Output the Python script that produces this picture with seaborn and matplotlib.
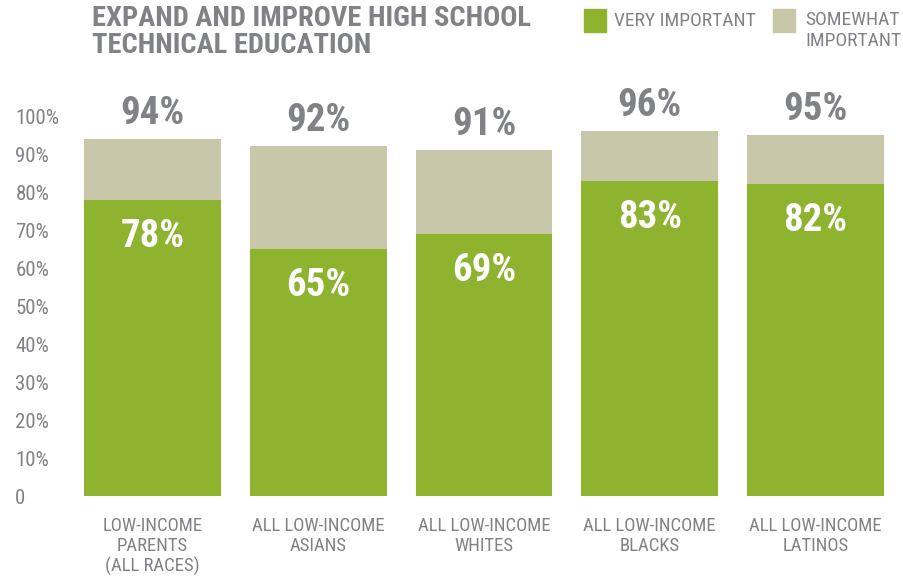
import matplotlib
matplotlib.use("Agg")
import matplotlib.pyplot as plt
import seaborn as sns
import pandas as pd
from matplotlib.patches import Rectangle
from matplotlib import font_manager as fm

categories = ["LOW-INCOME\nPARENTS\n(ALL RACES)", "ALL LOW-INCOME\nASIANS",
              "ALL LOW-INCOME\nWHITES", "ALL LOW-INCOME\nBLACKS", "ALL LOW-INCOME\nLATINOS"]
total_important = [94, 92, 91, 96, 95]
very_important = [78, 65, 69, 83, 82]
ytick_vals = [0, 10, 20, 30, 40, 50, 60, 70, 80, 90, 100]
ytick_labels = ["0", "10%", "20%", "30%", "40%", "50%", "60%", "70%", "80%", "90%", "100%"]

GREEN = "#8db32f"
BEIGE = "#c8c7a9"
GRAY = "#808285"

available = {f.name for f in fm.fontManager.ttflist}
FONT = next((f for f in ["Roboto Condensed", "Archivo Narrow", "Barlow Semi Condensed",
                          "Asap Condensed"] if f in available), "DejaVu Sans")

sns.set_theme(style="white")
plt.rcParams["font.family"] = [FONT, "DejaVu Sans"]

df = pd.DataFrame({"cat": categories, "total": total_important, "very": very_important})

fig = plt.figure(figsize=(9.04, 5.79), dpi=100)
ax = fig.add_axes([69.5 / 904, 1 - 496 / 579, 829 / 904, (496 - 78) / 579])

sns.barplot(data=df, x="cat", y="total", color=BEIGE, width=0.825, saturation=1, ax=ax)
sns.barplot(data=df, x="cat", y="very", color=GREEN, width=0.825, saturation=1, ax=ax)
for p in ax.patches:
    p.set_linewidth(0)

ax.set_ylim(0, 110)
ax.set_xlim(-0.5, len(categories) - 0.5)
ax.set_yticks(ytick_vals)
ax.set_yticklabels(ytick_labels)
ax.set_xlabel("")
ax.set_ylabel("")
for s in ax.spines.values():
    s.set_visible(False)
ax.tick_params(axis="y", length=0, pad=39, labelsize=15, labelcolor=GRAY)
for lbl in ax.get_yticklabels():
    lbl.set_horizontalalignment("left")
ax.tick_params(axis="x", length=0, pad=15, labelsize=13.5, labelcolor=GRAY)
for lbl in ax.get_xticklabels():
    lbl.set_linespacing(1.15)
ax.grid(False)

for i, (t, v) in enumerate(zip(total_important, very_important)):
    ax.annotate(f"{t}%", (i, t), xytext=(0, 5), textcoords="offset points",
                ha="center", va="bottom", fontsize=28, fontweight="bold", color=GRAY)
    ax.annotate(f"{v}%", (i, v), xytext=(0, -13), textcoords="offset points",
                ha="center", va="top", fontsize=28, fontweight="bold", color="white")

fig.text(92 / 904, 1 - 5 / 579, "EXPAND AND IMPROVE HIGH SCHOOL\nTECHNICAL EDUCATION",
         ha="left", va="top", fontsize=20.5, fontweight="bold", color=GRAY, linespacing=1.0)

# legend
fig.patches.append(Rectangle((584 / 904, 1 - 32 / 579), 22 / 904, 23 / 579,
                             transform=fig.transFigure, color=GREEN, figure=fig))
fig.text(614 / 904, 1 - 21 / 579, "VERY IMPORTANT", ha="left", va="center",
         fontsize=14, color=GRAY)
fig.patches.append(Rectangle((773 / 904, 1 - 32 / 579), 22 / 904, 23 / 579,
                             transform=fig.transFigure, color=BEIGE, figure=fig))
fig.text(805 / 904, 1 - 11 / 579, "SOMEWHAT\nIMPORTANT", ha="left", va="top",
         fontsize=14, color=GRAY, linespacing=1.2)

fig.savefig("out.png", dpi=100)
